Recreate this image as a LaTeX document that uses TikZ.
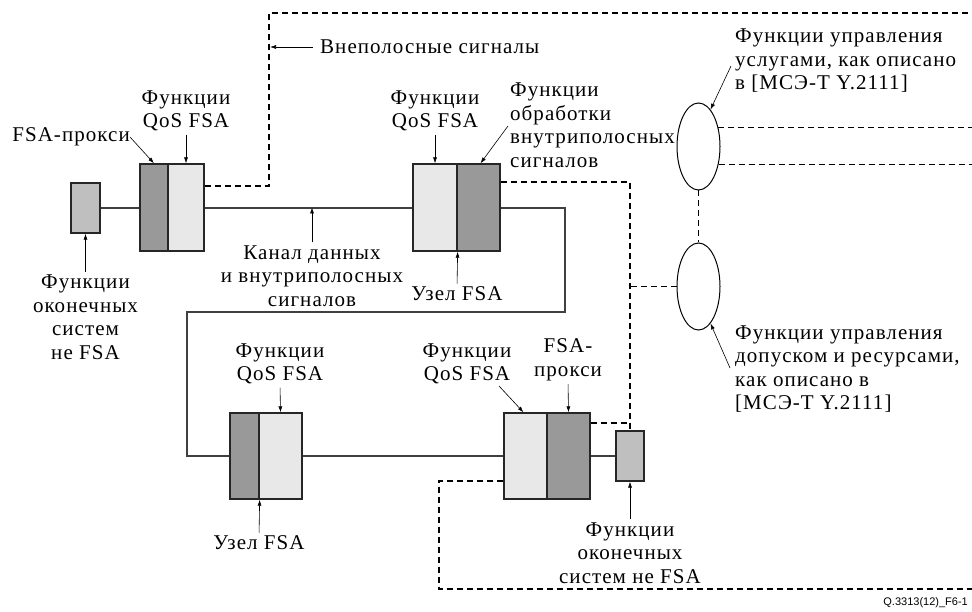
\documentclass[tikz,border=0pt]{standalone}
\usepackage{fontspec}
\setmainfont[LetterSpace=5]{Liberation Serif}
\newfontfamily\capfont{Liberation Sans}
\usetikzlibrary{arrows.meta,shapes.geometric}
\begin{document}
\begin{tikzpicture}[x=1pt,y=-1pt,
  unit/.style={draw=black!85,line width=1.3pt,inner sep=0pt,minimum height=87pt},
  darkbox/.style={unit,fill=black!40},
  lightbox/.style={unit,fill=black!9},
  endbox/.style={draw=black!85,line width=1.3pt,inner sep=0pt,fill=black!25,minimum height=50pt},
  ctrl/.style={ellipse,draw=black,line width=1pt,inner sep=0pt,minimum width=43pt,minimum height=87pt},
  data/.style={draw=black!75,line width=1.4pt},
  sig/.style={draw=black,line width=1.5pt,dash pattern=on 6pt off 4pt},
  lead/.style={draw=black,line width=0.6pt,-{Latex[length=6pt,width=4pt]}},
  lbl/.style={font=\fontsize{21}{23.5}\selectfont,inner sep=0pt,align=center},
  lbll/.style={lbl,align=left,anchor=west}]
\useasboundingbox (0,0) rectangle (972,612);

% free ends and corners of the lines
\coordinate (k1) at (565,312);
\coordinate (k2) at (187,312);
\coordinate (s0) at (269,13);
\coordinate (s1) at (972,13);
\coordinate (j1) at (630,423);
\coordinate (b1) at (439,481);
\coordinate (b2) at (439,589);
\coordinate (b3) at (972,589);

% data and in-band signalling path
\draw[data] (85.5,208) -- (154,208);
\draw[data] (186,208) -- (435,208);
\draw[data] (478.5,208) -| (k1) -- (k2) |- (244.5,456);
\draw[data] (280.5,456) -- (630,456);

% functional blocks
\node[endbox,minimum width=29pt] (e1) at (85.5,208) {};
\node[darkbox,minimum width=28pt] (p1) at (154,207.5) {};
\node[lightbox,minimum width=36pt] (q1) at (186,207.5) {};
\node[lightbox,minimum width=44pt] (q2) at (435,207.5) {};
\node[darkbox,minimum width=43pt] (f2) at (478.5,207.5) {};
\node[darkbox,minimum width=29pt,minimum height=86pt] (p3) at (244.5,456) {};
\node[lightbox,minimum width=43pt,minimum height=86pt] (q3) at (280.5,456) {};
\node[lightbox,minimum width=43pt,minimum height=86pt] (q4) at (525.5,456) {};
\node[darkbox,minimum width=43pt,minimum height=86pt] (p4) at (568.5,456) {};
\node[endbox,minimum width=28pt] (e4) at (630,456) {};
\node[ctrl] (c1) at (698.5,146.5) {};
\node[ctrl] (c2) at (698.5,286.5) {};

% out-of-band signalling
\draw[sig] ([yshift=21.5pt]q1.east) -| (s0) -- (s1);
\draw[sig] ([yshift=25.5pt]f2.east) -| (e4.north);
\draw[sig] ([yshift=33pt]p4.east) -- (j1);
\draw[sig] (c2.west) -- (c2.west -| e4.north);
\draw[sig] (c1.south) -- (c2.north);
\draw[sig] (c1.44) -- (c1.44 -| s1);
\draw[sig] (c1.-42) -- (c1.-42 -| s1);
\draw[sig] ([yshift=-25pt]q4.west) -- (b1) -- (b2) -- (b3);

% labels
\node[lbl,anchor=west] (toob) at (320,47) {Внеполосные сигналы};
\node[lbl,anchor=east] (tpx1) at (130,137) {FSA-прокси};
\node[lbl] (tq1) at (186,111) {Функции\\QoS FSA};
\node[lbl] (tq2) at (435,111) {Функции\\QoS FSA};
\node[lbll] (tib) at (510,125) {Функции\\обработки\\внутриполосных\\сигналов};
\node[lbl] (tn2) at (457,294) {Узел FSA};
\node[lbl] (tch) at (312,276) {Канал данных\\и внутриполосных\\сигналов};
\node[lbl] (te1) at (85.5,317) {Функции\\оконечных\\систем\\не FSA};
\node[lbll] (tc1) at (735,61) {Функции управления\\услугами, как описано\\в [МСЭ-Т Y.2111]};
\node[lbll] (tc2) at (735,369) {Функции управления\\допуском и ресурсами,\\как описано в\\{[}МСЭ-Т Y.2111{]}};
\node[lbl] (tq3) at (280,364) {Функции\\QoS FSA};
\node[lbl] (tn3) at (259,543) {Узел FSA};
\node[lbl] (tq4) at (467,364) {Функции\\QoS FSA};
\node[lbl] (tpx4) at (568,360) {FSA-\\прокси};
\node[lbl] (te4) at (630,553) {Функции\\оконечных\\систем не FSA};
\node[font=\capfont\fontsize{11}{13}\selectfont,inner sep=0pt,anchor=east] (fig) at (968,603) {Q.3313(12)\_F6-1};

% leader arrows
\coordinate (aib) at (508,126);
\coordinate (ac1) at (731,66);
\coordinate (ac2) at (730,368);
\coordinate (aq4) at (499,386);
\draw[lead] ([xshift=-7pt]toob.west) -- ([xshift=1pt]toob.west -| s0);
\draw[lead] (tpx1.east) -- (p1.north);
\draw[lead,shorten <=3pt] (tq1.south) -- (q1.north);
\draw[lead,shorten <=3pt] (tq2.south) -- (q2.north);
\draw[lead] (aib) -- ([xshift=2pt]f2.north);
\draw[lead,shorten <=3pt] (tn2.north) -- (q2.south east);
\draw[lead,shorten <=3pt] (tch.north) -- (tch.north |- q1.east);
\draw[lead,shorten <=3pt] (te1.north) -- (e1.south);
\draw[lead] (ac1) -- (c1.72);
\draw[lead] (ac2) -- (c2.-72);
\draw[lead,shorten <=3pt] (tq3.south) -- (q3.north);
\draw[lead,shorten <=3pt] (tn3.north) -- (p3.south east);
\draw[lead] (aq4) -- ([xshift=-2pt]q4.north);
\draw[lead,shorten <=3pt] (tpx4.south) -- (p4.north);
\draw[lead,shorten <=3pt] (te4.north) -- (e4.south);
\end{tikzpicture}
\end{document}
